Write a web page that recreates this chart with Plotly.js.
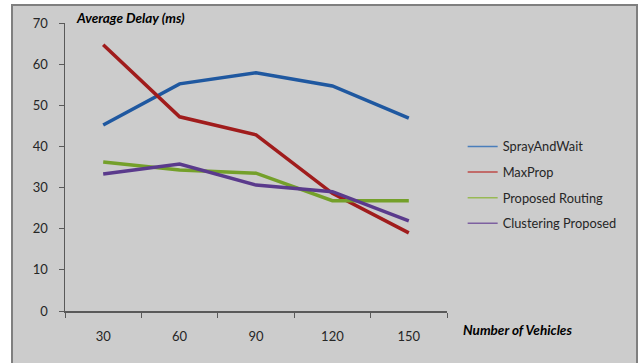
<!DOCTYPE html>
<html>
<head>
<meta charset="utf-8">
<script src="https://cdn.plot.ly/plotly-3.0.1.min.js"></script>
<style>html,body{margin:0;padding:0;background:#fff;}#chart{width:638px;height:363px;}</style>
</head>
<body>
<div id="chart"></div>
<script>
const categories = ["30", "60", "90", "120", "150"];
const sprayAndWait = [45.2, 55.2, 57.9, 54.7, 46.9];
const maxProp = [64.7, 47.2, 42.8, 28.6, 19.0];
const proposedRouting = [36.2, 34.3, 33.5, 26.8, 26.8];
const clusteringProposed = [33.3, 35.7, 30.6, 29.0, 21.9];
const seriesNames = ["SprayAndWait", "MaxProp", "Proposed Routing", "Clustering Proposed"];
const yTicks = [0, 10, 20, 30, 40, 50, 60, 70];

const lineColors = ["#1f58a0", "#a01c1c", "#74a02a", "#5a3a8c"];
const legendColors = ["#4a7ebb", "#be4b48", "#98b954", "#7d60a0"];
const seriesValues = [sprayAndWait, maxProp, proposedRouting, clusteringProposed];

const traces = [];
seriesValues.forEach((vals, i) => {
  traces.push({
    type: "scatter", mode: "lines", x: categories, y: vals,
    line: {color: lineColors[i], width: 3.5},
    showlegend: false, hoverinfo: "skip"
  });
});
seriesNames.forEach((name, i) => {
  traces.push({
    type: "scatter", mode: "lines", x: [null], y: [null], name: name,
    line: {color: legendColors[i], width: 1.5},
    legendgroup: "g" + i, showlegend: true
  });
});

const font = "Lato, 'Open Sans', sans-serif";
const layout = {
  width: 638, height: 363,
  margin: {l: 65, r: 191, t: 23, b: 52},
  paper_bgcolor: "#ffffff",
  plot_bgcolor: "rgba(0,0,0,0)",
  font: {family: font, size: 13, color: "#262626"},
  showlegend: true,
  legend: {
    x: 1.041, xanchor: "left", y: 0.623, yanchor: "top",
    bgcolor: "rgba(0,0,0,0)", traceorder: "grouped", tracegroupgap: 6,
    font: {family: font, size: 12.8, color: "#262626"}
  },
  xaxis: {
    type: "category", categoryorder: "array", categoryarray: categories,
    range: [-0.5, 4.5], tickson: "boundaries",
    showline: true, linecolor: "#595959", linewidth: 1.5,
    ticks: "outside", ticklen: 5, tickcolor: "#595959", tickwidth: 1,
    showgrid: false, zeroline: false, ticklabelstandoff: 13,
    tickfont: {family: font, size: 13, color: "#262626"}
  },
  yaxis: {
    range: [0, 70], tickvals: yTicks, ticktext: yTicks.map(String),
    showline: true, linecolor: "#595959", linewidth: 1.5,
    ticks: "outside", ticklen: 5, tickcolor: "#595959", tickwidth: 1,
    showgrid: false, zeroline: false, ticklabelstandoff: 8,
    tickfont: {family: font, size: 13, color: "#262626"}
  },
  shapes: [{
    type: "rect", xref: "paper", yref: "paper", layer: "below",
    x0: (12 - 65) / 382, x1: (637 - 65) / 382,
    y0: -0.25, y1: (311 - 5) / 288,
    fillcolor: "#cccccc", line: {color: "#7f7f7f", width: 2}
  }],
  annotations: [
    {text: "<b><i>Average Delay (ms)</i></b>", xref: "paper", yref: "paper",
     x: (74 - 65) / 382, y: (311 - 18) / 288, xanchor: "left", yanchor: "middle",
     showarrow: false, font: {family: font, size: 13.5, color: "#000000"}},
    {text: "<b><i>Number of Vehicles</i></b>", xref: "paper", yref: "paper",
     x: (461 - 65) / 382, y: (311 - 330) / 288, xanchor: "left", yanchor: "middle",
     showarrow: false, font: {family: font, size: 13.5, color: "#000000"}}
  ]
};

Plotly.newPlot("chart", traces, layout, {staticPlot: true, displayModeBar: false});
</script>
</body>
</html>
